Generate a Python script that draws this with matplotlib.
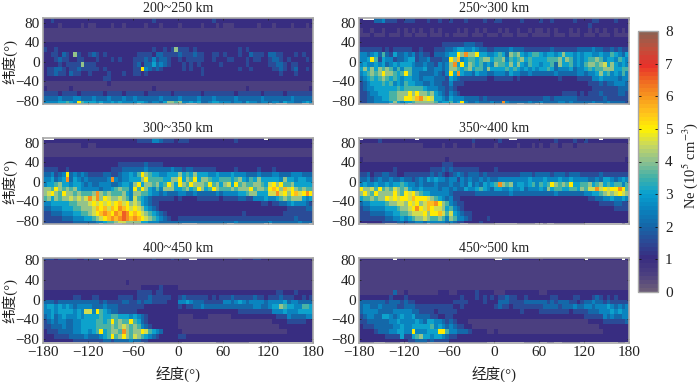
import matplotlib
matplotlib.use('Agg')
import matplotlib.pyplot as plt
import numpy as np
from matplotlib.colors import LinearSegmentedColormap

plt.rcParams['font.family'] = ['Liberation Serif', 'Noto Sans CJK SC']
plt.rcParams['mathtext.fontset'] = 'stix'

# Ne in half units of 1e5 cm-3, hex-style digits
# rows 90N -> 90S (10 deg), cols 180W -> 180E (5 deg), groups of 60 deg
p200 = [
    "223222222222 222222222222 222223222222 222222222322 222222222222 222222222222",
    "222212222212 112222122122 222122212222 122222122212 111222222122 212222122212",
    "111111111111 111111111111 111111111111 111111111111 111111111111 111111111111",
    "111111111111 111111111111 111111111111 111111111111 111111111111 111111111111",
    "111111111111 111111111111 111111111111 111111111111 111111111111 111111111111",
    "222222222222 222222222222 222222222222 222222222222 222222222222 222222222222",
    "322322222222 222222222222 222223223238 333232222222 222232322222 222222222222",
    "223324328322 343232222222 233332443333 433343322332 322232243332 443322232322",
    "222343322332 223222323222 333435344322 323333322322 233222323322 344323222232",
    "222232333383 332222222222 342446454322 232323222223 222222322222 334432332222",
    "233443233433 333232222222 33a543432222 232322322222 222232232222 233432342232",
    "233433243322 322223222322 332322222222 222222322222 222222222222 222322232222",
    "222222222222 222233222222 222222222222 222222222222 222222222222 222222222222",
    "111111111111 111112111111 111111111111 111111111111 111111111111 111111111111",
    "211111121111 111111111111 111112111111 111111111111 111111211111 111111111112",
    "333323333233 333323333233 333233333323 333333233333 333233333323 333323333333",
    "444454445544 454445444544 544444454444 544445444544 444544444454 444444544444",
    "555566765a76 665655656555 566545546887 855656445665 554554655455 455465544565",
]
p250 = [
    "222244533322 333222322322 322232222322 332222232222 322322222322 223322223222",
    "222222222222 222222222222 222222222222 222222222222 222222222222 232222222222",
    "122122122212 121212212122 221212212122 212122122121 121212221212 212121221212",
    "111211121112 112111211121 211112111211 121112111211 111211121112 111211121111",
    "222222222222 222222222222 222222222222 222222222222 222222222222 222222222222",
    "222222222222 222222222233 333344433222 222222222222 222222222222 222222222222",
    "333333232333 332232223334 456655654433 444454443333 333433333344 445443343433",
    "554564743644 545343324445 66a8c88a6655 676487865677 656656866565 665565576546",
    "556a73655344 566344533344 a8b567767886 778576786766 667778687565 677875665765",
    "565565645656 665445443545 8c6a68767565 877686865766 566748667565 788789686565",
    "686868787575 775556445545 887678677586 666767656565 667645556455 676778886677",
    "567878a88767 a75544445435 a6c655465544 555465544544 444454444455 455686756575",
    "456767876765 665545554443 654333333322 333332322222 222223222233 335565555455",
    "345666767565 766554454433 533322222222 222222222222 222222222222 233343445554",
    "345566666676 777776555443 432222222222 222222222222 222222222222 223333333444",
    "334556667788 8a8a88786543 543222222222 222222222222 222222333323 233343333443",
    "334455667788 aa9bc9a96654 655544443433 333333333333 344344444433 333334333333",
    "334455556865 667888887566 756a54454445 44c544444544 544445545444 445444544443",
]
p300 = [
    "222222222222 222222222222 233335543332 333222222222 222322222222 222222222222",
    "111111111122 112222222222 222222222222 222222222222 222222222222 222222222222",
    "111111111111 111111111111 111111111111 111111111111 111111111111 111111111111",
    "111111111111 111111111111 111111111111 111111111111 111111111111 111111111111",
    "222222222222 222222222222 222222222222 222222222222 222222222222 222222222222",
    "222222222222 222222223333 333433332222 222222222222 222222222222 222222222222",
    "333322322222 222222333444 444544444454 434433333322 222322222322 232222222222",
    "445345a45454 333344334556 57a876655666 867686665565 556555444544 455444555444",
    "556456c46545 444445c54556 668a77776688 a687a6887667 776786576866 666586656655",
    "566786656654 544555445665 8a6887867a86 a87a8887a786 896a78778876 9a8a77866666",
    "887a87878655 555455678775 a7a865758886 67867a867a87 7787888a7887 aba8b9a87877",
    "89a87a887877 78c878777865 887765545444 554454444454 555566788666 99c9a8ab9aca",
    "786878898989 c9c8a9889875 976543333332 322223333332 333344335556 556787888656",
    "556666677888 9a9a9a9ab9a8 986543322222 222222222222 222222222233 233445655543",
    "445556667788 89bab9bacba9 a98654322222 222222222222 222222222222 222223333344",
    "334445556677 89abcbacbdca ba9876543222 222222222222 222223222222 222233333333",
    "333334445556 6789abcbcdcb cba987654322 333333333333 333333333333 333333343333",
    "333333334444 445567789988 886655544444 444444444444 444544444444 544444445444",
]
p350 = [
    "222223222222 222222222222 222222322222 232222222222 222232222322 322222222222",
    "111111111111 111112222212 212222122222 122222122212 122112111211 111111111111",
    "111111111111 111111111111 111111111111 111111111111 111111111111 111111111111",
    "111111111111 111111111111 111111111111 111111111111 111111111111 111111111111",
    "211111111111 111111111112 111111111111 111111111111 111111111111 111111111112",
    "222222222222 222222222233 322222222222 222222222222 222222222222 222222222222",
    "222222222322 222222233343 433333332222 322222222222 222222222222 222222222222",
    "334233443322 333333343432 345434443433 333333344434 444344434443 333343333333",
    "445345445445 443454656554 553545445454 455555555655 565556556555 544546654565",
    "565565565667 655454445444 544546454656 7c8785665675 767a8787a667 786786767757",
    "a8897a787987 865565555455 454465567654 665565564555 658677667768 799c9a9aaca7",
    "8a87a8888a87 a9a876655555 433333344444 444454444444 444454444444 556678989a98",
    "6778788a9a9a a9baaa987654 533222222222 222222222222 222222222222 233445565565",
    "455666678899 8a9a89bbca87 543322222222 222222222222 222222222222 222233334433",
    "344555566678 89aca9ba9986 754322222222 222222222222 222222222222 222222223333",
    "333444455667 78999a8aab97 965433222222 222222222222 222222222222 222222222222",
    "333333344556 567889877875 875543222232 222222222222 222222222222 222222222222",
    "222222333344 344554555554 543322223222 222222222222 222222222222 222222222222",
]
p400 = [
    "333233333223 333222222322 222223222232 322222222222 222232223322 222222222222",
    "111111111111 111111111111 111111111111 111111111111 111111111111 111111111111",
    "111111111111 111111111111 111111111111 111111111111 111111111111 111111111111",
    "111111111111 111111111111 111111111111 111111111111 111111111111 111111111111",
    "111111111111 111111111111 111111111111 111111111111 111111111111 111111111111",
    "111111111111 111111111121 111111111111 111111111111 111111111111 111111111111",
    "111111111111 111111111111 112222232222 111111111111 111111111111 111111111111",
    "222222222222 222222222222 233332332222 222222222222 222222222222 223322232222",
    "222222223322 233222223333 233343333322 343333332323 334333334332 333433322323",
    "444344444444 444343333443 343443333222 556544433333 554565455554 555564554444",
    "566565654555 544454443333 333222222222 323344544444 444444445544 566876655776",
    "556566665659 95a765443333 322222222222 222222222222 222233333333 355565556666",
    "456456555656 666766776665 654322222222 111122221111 112222222222 223335444455",
    "345455445566 667767a7877a 764322222222 111111111111 111111111111 122223333322",
    "334445445566 667777878987 875432222222 111111111111 111111111111 111222222222",
    "233344445566 567a67887c87 88a976542222 211111111111 111111111111 111112222222",
    "222333344445 444567a78a87 987654322222 332222222222 222222222222 222222222222",
    "222222223333 333344344445 443322222222 222222222222 222222222222 222222222222",
]
p450 = [
    "222222222222 222222222222 222122222222 223322222222 122222222222 222222222222",
    "111111111111 111111111111 111111111111 111111111111 111111111111 111111111111",
    "111111111111 111111111111 111111111111 111111111111 111111111111 111111111111",
    "111111111111 111111111111 111111111111 111111111111 111111111111 111111111111",
    "111111111111 111111111111 111111111111 111111111111 111111111111 111111111111",
    "111111111111 111111111111 111111111111 111111111111 111111111111 111111111111",
    "111111111111 111111111111 111111111111 111111111111 111111111111 111111111111",
    "111111111411 211111111222 112222232222 111222222222 112222222222 222222222222",
    "222222223222 322222222222 222322232323 233433223222 222332222332 223432323222",
    "444444434443 433222222222 233332222322 244433334444 443434443323 445443433333",
    "455445444433 444333333333 322322222222 343323333333 344443444544 554555654545",
    "455554444555 554433332333 332222222222 222222232222 333333332333 344455565655",
    "345544665456 556444433223 322222222222 222222222222 222222222222 333335454455",
    "334444445565 555654665543 432221111111 111111111111 111111111111 122223333334",
    "233344444556 556666675654 543322111111 111111111111 111111111111 111122222222",
    "222234445566 55a555666aa7 554443222211 211111111111 111111111111 111112222222",
    "222222233336 336786656654 332222222222 222222222222 222222222222 222222222222",
    "222222222222 233444343333 222222222222 222222222222 222222222222 222222222222",
]
panels = [p200, p250, p300, p350, p400, p450]
titles = ['200~250 km', '250~300 km', '300~350 km', '350~400 km', '400~450 km', '450~500 km']

# no-data stretches (lon from, lon to) along the top and bottom 5 deg strips
gaps_top = [
    [],
    [(-174, -159)],
    [(-180, -164), (113, 118)],
    [(-180, -175), (-104, -99), (22, 28), (139, 144)],
    [(-104, -99), (-79, -69), (3, 7), (17, 23)],
    [(-134, -128), (-1, 8), (118, 123), (170, 175)],
]
gaps_bottom = [
    [(-104, -99), (-53, -48), (12, 23), (118, 123), (128, 143), (164, 173)],
    [(-139, -133), (-114, -108), (-73, -61), (-60, -43), (-43, -39), (32, 38), (53, 64), (124, 144)],
    [(-104, -99), (-84, -73), (-37, -33), (6, 23), (43, 47), (67, 73), (113, 127), (174, 180)],
    [(-180, -170), (-144, -132), (-92, -84), (-43, -33), (-2, 28), (53, 67), (72, 79), (121, 168), (175, 180)],
    [(-180, -104), (-62, -43), (7, 43), (47, 52), (93, 109), (127, 180)],
    [(-159, -144), (-124, -114), (-89, -62), (-8, 41), (58, 68), (78, 92), (113, 163), (175, 180)],
]

xticks = [-180, -120, -60, 0, 60, 120, 180]
yticks = [-80, -40, 0, 40, 80]

# the colour at 0.5 is what the quiet latitudes get, keep it close to the indigo at 1
cmap = LinearSegmentedColormap.from_list('ne', [
    (0 / 8, '#6b5c78'), (0.5 / 8, '#4b3f80'), (1 / 8, '#382c80'), (1.5 / 8, '#2b4a96'),
    (2 / 8, '#1566a8'), (2.5 / 8, '#0a82bd'), (3 / 8, '#08a0d0'), (3.5 / 8, '#40b0a8'),
    (4 / 8, '#8cc090'), (4.5 / 8, '#c8d860'), (5 / 8, '#fff200'), (5.5 / 8, '#ffc41c'),
    (6 / 8, '#f8981e'), (6.5 / 8, '#f06a22'), (7 / 8, '#e8302a'), (7.5 / 8, '#c0503c'),
    (8 / 8, '#8f6050')], N=64)
cmap.set_bad('white')

W, H = 700, 382


def pixel_axes(x0, y0, x1, y1):
    return fig.add_axes([x0 / W, 1 - y1 / H, (x1 - x0) / W, (y1 - y0) / H])


fig = plt.figure(figsize=(7, 3.82), dpi=100)

lefts = [(43, 313), (359, 629)]
rows = [(18, 104), (138, 224), (258, 343)]
ylims = [(-87, 90), (-87, 90), (-88, 84)]
lon = np.arange(-180, 181, 5)
lat = np.arange(90, -91, -5)
centers = lon[:-1] + 2.5

for i, rowsdata in enumerate(panels):
    grid = np.array([[int(c, 16) / 2 for c in r.replace(' ', '').ljust(72, '2')[:72]] for r in rowsdata])
    fine = np.repeat(grid, 2, axis=0)
    top_row = 1 if i >= 4 else 0
    for a, b in gaps_top[i]:
        fine[top_row, (centers > a) & (centers < b)] = np.nan
    for a, b in gaps_bottom[i]:
        fine[-1, (centers > a) & (centers < b)] = np.nan

    xr = lefts[i % 2]
    yr = rows[i // 2]
    ax = pixel_axes(xr[0], yr[0], xr[1], yr[1])
    mesh = ax.pcolormesh(lon, lat, np.ma.masked_invalid(fine), cmap=cmap, vmin=0, vmax=8)
    ax.set_xlim(-180, 180)
    ax.set_ylim(*ylims[i // 2])
    ax.set_xticks(xticks)
    ax.set_yticks(yticks)
    ax.tick_params(direction='in', length=1.5, width=0.6, top=True, right=True,
                   labelsize=11, pad=2.5, color='#222222', labelcolor='#222222')
    for s in ax.spines.values():
        s.set_color('#a8a8a8')
        s.set_linewidth(1.2)
    ax.set_title(titles[i], fontsize=10, pad=4, color='#222222')
    if i // 2 == 2:
        ax.set_xlabel('经度(°)', fontsize=10.5, color='#222222', labelpad=5)
    else:
        ax.set_xticklabels([])
    if i % 2 == 0:
        ax.set_ylabel('纬度(°)', fontsize=10.5, color='#222222', va='center')
        ax.yaxis.set_label_coords(-0.125, 0.5)

cax = pixel_axes(638, 31, 658, 292)
cb = fig.colorbar(mesh, cax=cax, ticks=range(9))
cb.ax.tick_params(direction='in', length=2, width=0.6, left=True, right=True,
                  labelsize=11, pad=5, color='#111111', labelcolor='#222222')
cb.outline.set_edgecolor('#a8a8a8')
cb.outline.set_linewidth(1)
fig.text(690 / W, 1 - 165 / H, r'Ne (10$^{5}$ cm$^{-3}$)', rotation=90, ha='center', va='center',
         fontsize=10.5, color='#222222')

fig.savefig('out.png', dpi=100)
